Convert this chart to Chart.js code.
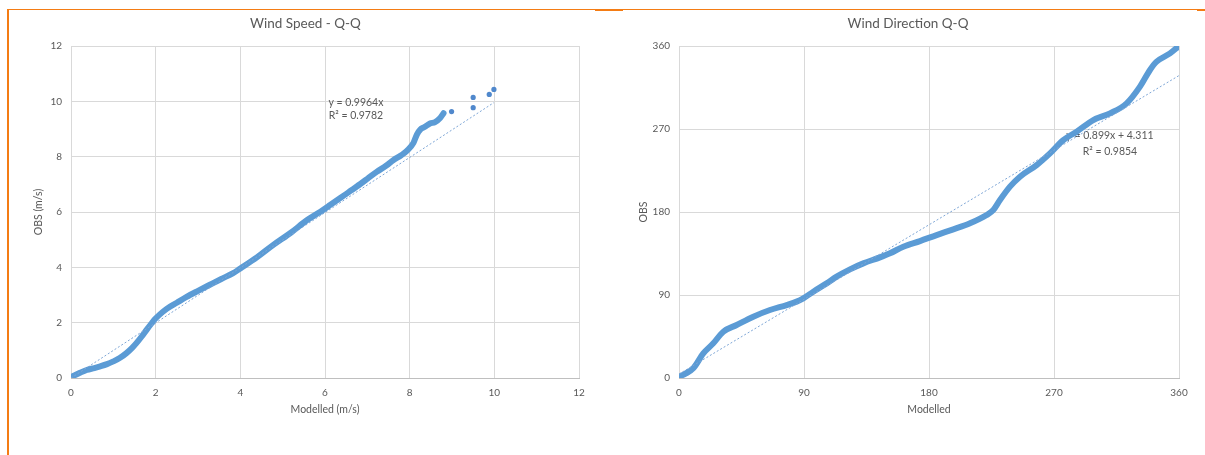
<!DOCTYPE html>
<html>
<head>
<meta charset="utf-8">
<title>Wind Speed and Wind Direction Q-Q</title>
<script src="https://cdn.jsdelivr.net/npm/chart.js@4.4.1/dist/chart.umd.min.js"></script>
<style>
  html, body { margin: 0; padding: 0; background: #ffffff; }
  body { width: 1205px; height: 455px; position: relative; overflow: hidden; }
  .rule { position: absolute; background: #f47c14; }
  #speedChart { position: absolute; left: 10px; top: 10px; }
  #dirChart { position: absolute; left: 605px; top: 10px; }
</style>
</head>
<body>
<div class="rule" style="left:7px;top:9px;width:1198px;height:1px;"></div>
<div class="rule" style="left:7px;top:9px;width:2px;height:446px;"></div>
<div class="rule" style="left:595px;top:9px;width:28px;height:2px;"></div>
<div class="rule" style="left:1197px;top:9px;width:8px;height:2px;"></div>

<canvas id="speedChart" width="585" height="440"></canvas>
<canvas id="dirChart" width="595" height="440"></canvas>

<script>
// ---- Wind speed quantiles (m/s) ----
const speedModelled = [0.02, 0.2, 0.37, 0.55, 0.69, 0.85, 1.0, 1.15, 1.31, 1.45, 1.55, 1.67, 1.79, 1.9, 1.98,
  2.1, 2.26, 2.5, 2.73, 3.0, 3.28, 3.55, 3.83, 4.0, 4.39, 4.78, 5.2, 5.57, 5.85, 6.12, 6.45, 6.75, 7.0,
  7.22, 7.45, 7.62, 7.8, 7.94, 8.09, 8.17, 8.25, 8.35, 8.48, 8.6, 8.72, 8.8];
const speedObserved = [0.05, 0.18, 0.29, 0.36, 0.42, 0.5, 0.6, 0.72, 0.9, 1.1, 1.27, 1.5, 1.75, 1.97, 2.12,
  2.3, 2.5, 2.72, 2.93, 3.15, 3.37, 3.58, 3.79, 3.96, 4.36, 4.81, 5.26, 5.7, 5.97, 6.25, 6.6, 6.92, 7.2,
  7.45, 7.68, 7.88, 8.05, 8.22, 8.5, 8.8, 8.98, 9.07, 9.2, 9.25, 9.4, 9.57];
// highest quantiles, shown as separate markers
const speedTailModelled = [8.99, 9.5, 9.5, 9.88, 9.99];
const speedTailObserved = [9.63, 9.77, 10.14, 10.25, 10.43];
const speedTicks = [0, 2, 4, 6, 8, 10, 12];
const speedSlope = 0.9964;
const speedIntercept = 0;
const speedR2 = 0.9782;

// ---- Wind direction quantiles (degrees) ----
const dirModelled = [0, 5, 10.3, 17.5, 24.7, 31.9, 41.5, 53.5, 65.5, 77.5, 84.7, 89.5, 96.7, 106.3, 113.5,
  123.1, 132.7, 144.7, 151.9, 161.5, 173.5, 185.5, 197.5, 209.5, 221.5, 226.3, 231.1, 238.3, 245.5, 257.5,
  267.1, 276.7, 286.3, 298.3, 310.3, 322.3, 331.9, 339.1, 343.9, 353.5, 360];
const dirObserved = [1.4, 5, 10.5, 26.7, 37.6, 50.2, 57.5, 66.5, 73.7, 79.1, 82.8, 86.4, 93.6, 102.6, 109.9,
  117.8, 124.3, 130.8, 135.2, 142.4, 148.5, 155, 161.2, 167.7, 176.7, 182.1, 193, 207.5, 218.3, 230.9,
  243.6, 258, 267.1, 279.7, 287, 297.8, 315.9, 334, 343, 352, 360];
const dirTicks = [0, 90, 180, 270, 360];
const dirSlope = 0.899;
const dirIntercept = 4.311;
const dirR2 = 0.9854;

const TEXT = '#595959';
const GRID = '#d9d9d9';
const SERIES = '#5b9bd5';
const FONT = 'Lato, "Open Sans", sans-serif';

const toPoints = (xs, ys) => xs.map((x, i) => ({ x: x, y: ys[i] }));
const fitLine = (slope, intercept, x0, x1) => [
  { x: x0, y: slope * x0 + intercept },
  { x: x1, y: slope * x1 + intercept }
];

// Writes the trendline equation and R² centred on an anchor given in data units
const fitLabels = {
  id: 'fitLabels',
  beforeDatasetsDraw(chart, args, opts) {
    const { ctx, scales } = chart;
    const cx = scales.x.getPixelForValue(opts.x);
    const cy = scales.y.getPixelForValue(opts.y);
    ctx.save();
    ctx.font = '10.5px ' + FONT;
    ctx.fillStyle = TEXT;
    ctx.textAlign = 'center';
    ctx.textBaseline = 'middle';
    opts.lines.forEach((t, i) => ctx.fillText(t, cx, cy + i * opts.spacing));
    ctx.restore();
  }
};

function linearAxis(ticks, titleText, fixedSize, isX) {
  return {
    type: 'linear',
    min: ticks[0],
    max: ticks[ticks.length - 1],
    afterBuildTicks: s => { s.ticks = ticks.map(v => ({ value: v })); },
    afterFit: s => { if (isX) { s.height = fixedSize; } else { s.width = fixedSize; } },
    grid: { color: GRID, lineWidth: 1, drawTicks: false },
    border: isX ? { display: true, color: '#bfbfbf', width: 1 } : { display: false },
    ticks: {
      color: TEXT, font: { family: FONT, size: 10 }, padding: 9,
      maxRotation: 0, autoSkip: false
    },
    title: {
      display: true, text: titleText, color: TEXT,
      font: { family: FONT, size: 10.5 }, padding: { top: 0, bottom: 0 }
    }
  };
}

function makeChart(id, cfg) {
  return new Chart(document.getElementById(id), {
    type: 'scatter',
    data: {
      datasets: [
        {
          label: 'Linear fit',
          data: cfg.fit,
          showLine: true,
          borderColor: '#7ea6d6',
          borderWidth: 1,
          borderDash: [2, 2],
          pointRadius: 0,
          order: 0
        },
        {
          label: 'Q-Q',
          data: cfg.curve,
          showLine: true,
          borderColor: SERIES,
          backgroundColor: SERIES,
          borderWidth: 6,
          borderCapStyle: 'round',
          borderJoinStyle: 'round',
          cubicInterpolationMode: 'monotone',
          pointRadius: 0,
          order: 1
        },
        {
          label: 'Q-Q upper',
          data: cfg.tail || [],
          showLine: false,
          backgroundColor: '#5088cc',
          borderColor: '#5088cc',
          pointRadius: 2.6,
          pointBorderWidth: 0,
          order: 1
        }
      ]
    },
    options: {
      responsive: false,
      animation: false,
      devicePixelRatio: 1,
      layout: { padding: cfg.padding },
      scales: {
        x: linearAxis(cfg.ticks, cfg.xTitle, cfg.xHeight, true),
        y: linearAxis(cfg.ticks, cfg.yTitle, cfg.yWidth, false)
      },
      plugins: {
        legend: { display: false },
        tooltip: { enabled: false },
        title: {
          display: true, text: cfg.title, color: TEXT,
          font: { family: FONT, size: 13.5, weight: 'normal' },
          padding: { top: 6, bottom: 13.8 }
        },
        fitLabels: cfg.label
      }
    },
    plugins: [fitLabels]
  });
}

const fmt = (v) => String(v);

makeChart('speedChart', {
  title: 'Wind Speed - Q-Q',
  xTitle: 'Modelled (m/s)',
  yTitle: 'OBS (m/s)',
  ticks: speedTicks,
  curve: toPoints(speedModelled, speedObserved),
  tail: toPoints(speedTailModelled, speedTailObserved),
  fit: fitLine(speedSlope, speedIntercept, 0, Math.max(...speedTailModelled)),
  padding: { left: 22, right: 16, top: 0, bottom: 33.7 },
  yWidth: 39,
  xHeight: 38.3,
  label: { x: 6.73, y: 9.94, spacing: 13, lines: ['y = ' + fmt(speedSlope) + 'x', 'R² = ' + fmt(speedR2)] }
});

makeChart('dirChart', {
  title: 'Wind Direction Q-Q',
  xTitle: 'Modelled',
  yTitle: 'OBS',
  ticks: dirTicks,
  curve: toPoints(dirModelled, dirObserved),
  fit: fitLine(dirSlope, dirIntercept, 0, 360),
  padding: { left: 32, right: 21, top: 0, bottom: 33.7 },
  yWidth: 42,
  xHeight: 38.3,
  label: { x: 310.3, y: 262.4, spacing: 15.5, lines: ['y = ' + fmt(dirSlope) + 'x + ' + fmt(dirIntercept), 'R² = ' + fmt(dirR2)] }
});
</script>
</body>
</html>
